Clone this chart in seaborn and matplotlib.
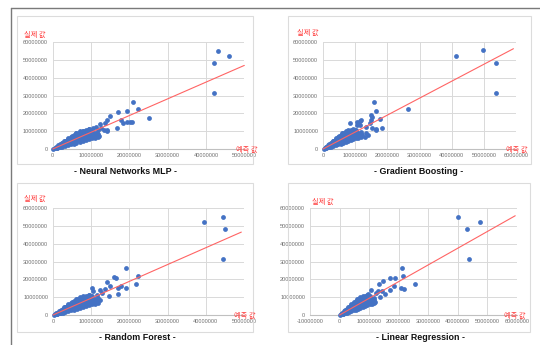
import matplotlib
matplotlib.use("Agg")
import matplotlib.pyplot as plt
import seaborn as sns
import pandas as pd
from matplotlib.patches import Rectangle
from matplotlib.lines import Line2D
from matplotlib.ticker import FuncFormatter, MultipleLocator

# ---------------- data (values in millions) ----------------
models = ["Neural Networks MLP", "Gradient Boosting", "Random Forest", "Linear Regression"]

# dense cluster of small apartments, same look in all four panels
core_pred = [0.2, 0.5, 0.8, 1, 1.2, 1.5, 1.5, 2, 2, 2, 2.5, 2.5, 3, 3, 3, 3.5, 3.5, 4, 4, 4, 4,
             4.5, 4.5, 5, 5, 5, 5, 5.5, 5.5, 6, 6, 6, 6, 6.5, 6.5, 7, 7, 7, 7, 7.5, 7.5, 8, 8, 8,
             8, 8.5, 8.5, 9, 9, 9, 9.5, 10, 10, 10, 10.5, 11, 11]
core_act = [0.2, 0.4, 0.9, 0.7, 1.3, 1.2, 2, 1.4, 2.3, 3, 2, 3.2, 2.2, 3.2, 4.3, 2.8, 4.5, 3, 4,
            5.2, 6.2, 3.6, 5.5, 3.8, 5, 6.5, 7.5, 4.5, 6.5, 4.5, 6, 7.5, 9, 5.2, 7.5, 5.2, 6.5, 8,
            10, 6, 9, 5.8, 7, 8.5, 10, 6.5, 9, 6.2, 7.5, 9.5, 8, 6.5, 8, 10.5, 7.5, 6.8, 8.5]
fill_pred = [1, 1, 1.8, 1.8, 1.8, 2.5, 2.5, 2.5, 3.2, 3.2, 3.2, 3.2, 4, 4, 4, 4,
             4.8, 4.8, 4.8, 4.8, 4.8, 5.5, 5.5, 5.5, 5.5, 5.5, 6.2, 6.2, 6.2, 6.2, 6.2,
             7, 7, 7, 7, 7, 7.8, 7.8, 7.8, 7.8, 7.8, 8.6, 8.6, 8.6, 8.6, 8.6,
             9.4, 9.4, 9.4, 9.4, 9.4, 10.2, 10.2, 10.2, 10.2, 11, 11, 11, 11.8, 11.8]
fill_act = [0.6, 1.4, 1, 1.8, 2.4, 1.4, 2.6, 3.4, 1.8, 2.8, 3.8, 4.6, 2.2, 3.4, 4.6, 5.6,
            2.6, 3.8, 5, 6.2, 7, 3, 4.2, 5.4, 6.8, 7.8, 3.4, 4.8, 6.2, 7.6, 8.8,
            3.9, 5.5, 7, 8.6, 9.6, 4.4, 6, 7.6, 9, 10.4, 5, 6.6, 8, 9.6, 10.8,
            5.4, 7, 8.6, 10, 11.2, 6, 7.6, 9, 10.4, 6.4, 7.8, 9.2, 7, 8.4]

nn_pred = [9.5, 10.5, 11.2, 12.7, 11.8, 13.6, 14.3, 14.9, 14.3, 12.3, 13.4, 14.3, 16.7, 17.1, 17.7,
           18.3, 19.4, 20.2, 20.8, 19.5, 21.0, 22.3, 25.0, 11, 11.5, 12, 43.2, 46.0, 42.0, 42.2]
nn_act = [11.5, 12, 12.6, 11.6, 10.7, 14.4, 16.3, 18.8, 10.1, 14.1, 10.7, 10.5, 12.0, 20.6, 16.3,
          14.4, 15.0, 15.2, 15.2, 21.4, 26.6, 22.5, 17.3, 8, 9, 7.5, 55.3, 52.5, 48.4, 31.5]

gb_pred = [8.3, 10.6, 10.9, 11.6, 11.9, 10.7, 11.4, 13.5, 15.1, 16.6, 11.9, 13.5, 14.0, 13.0, 14.5,
           14.8, 15.1, 15.0, 16.4, 17.6, 18.4, 15.8, 16.6, 26.3, 12, 9.5, 41.5, 49.8, 53.8, 53.8]
gb_act = [14.4, 13.5, 14.8, 15.9, 16.3, 15.0, 13.5, 12.6, 11.6, 11.2, 9.8, 8.8, 7.9, 6.5, 14.4,
          16.3, 18.2, 19.1, 10.7, 16.9, 12.0, 26.3, 21.4, 22.5, 8, 7, 51.9, 55.3, 48.4, 31.5]

rf_pred = [10.0, 10.2, 10.6, 11.5, 11.9, 12.2, 12.3, 12.8, 13.5, 14.1, 14.7, 15.0, 16.0, 16.5, 16.9,
           17.0, 17.7, 19.1, 19.1, 21.7, 22.2, 10.5, 11, 9.5, 39.5, 44.5, 45.0, 44.4]
rf_act = [7.7, 15.0, 13.7, 11.3, 9.4, 14.1, 8.4, 12.2, 14.4, 18.6, 10.9, 16.3, 21.2, 20.6, 11.8,
          15.0, 16.0, 15.0, 26.1, 17.3, 21.8, 9, 8.5, 11, 51.9, 55.0, 48.2, 31.3]

lr_pred = [9.5, 10.5, 10.5, 11.5, 12.2, 12.9, 13.3, 13.8, 14.4, 14.7, 15.5, 17.0, 17.0, 18.3, 18.9,
           20.8, 21.2, 21.5, 21.7, 25.4, 11, 12, 40.1, 47.4, 43.2, 43.7]
lr_act = [11.5, 14.1, 8.4, 9.5, 12.6, 13.7, 17.3, 10.3, 13.5, 18.8, 11.8, 14.0, 20.6, 16.3, 21.0,
          15.0, 26.3, 21.8, 14.6, 17.3, 8, 7.5, 55.0, 51.9, 48.2, 31.3]

trend_slope = [0.94, 0.95, 0.943, 0.937]
trend_end = [50.0, 59.2, 49.3, 59.4]
x_min = [0, 0, 0, -10]
x_max = [50, 60, 50, 60]
y_max = 60
tick_step = 10
M = 1_000_000

preds = [nn_pred, gb_pred, rf_pred, lr_pred]
acts = [nn_act, gb_act, rf_act, lr_act]

# ---------------- layout (pixels) ----------------
W, H = 540, 345
panel_box = [(17, 16, 253, 164), (288, 16, 531, 164), (17, 183, 253, 332), (288, 183, 530, 332)]
plot_area = [(52.7, 42.3, 244.3, 149), (323, 42, 516, 149), (53, 208, 244, 315), (310, 208, 517, 315)]
ylab_pos = [(24, 35), (297, 33), (24, 199), (312, 202)]
xlab_pos = [(257, 150), (527, 150), (256, 316), (526, 316)]
title_pos = [(125.5, 171), (419, 171), (137.5, 338), (420, 338)]

sns.set_style("white")
plt.rcParams["font.family"] = ["Liberation Sans", "DejaVu Sans"]

fig = plt.figure(figsize=(W / 100, H / 100), dpi=100)
fig.patch.set_facecolor("white")


def fx(x):
    return x / W


def fy(y):
    return 1 - y / H


# outer document frame
fig.add_artist(Line2D([fx(11), fx(540)], [fy(8), fy(8)], color="#7a7a7a", lw=1.0))
fig.add_artist(Line2D([fx(11), fx(11)], [fy(8), fy(345)], color="#7a7a7a", lw=1.0))

blue = "#4472C4"
red_line = "#ff6464"
grid_c = "#d9d9d9"
fmt = FuncFormatter(lambda v, p: f"{int(round(v)):d}")

for i in range(4):
    bx0, by0, bx1, by1 = panel_box[i]
    fig.add_artist(Rectangle((fx(bx0), fy(by1)), fx(bx1 - bx0), (by1 - by0) / H,
                             fill=False, edgecolor="#dcdcdc", lw=0.8))
    px0, py0, px1, py1 = plot_area[i]
    ax = fig.add_axes([fx(px0), fy(py1), fx(px1 - px0), (py1 - py0) / H])
    ax.set_facecolor("white")

    df = pd.DataFrame({
        "pred": [v * M for v in core_pred + fill_pred + preds[i]],
        "actual": [v * M for v in core_act + fill_act + acts[i]],
    })
    sns.scatterplot(data=df, x="pred", y="actual", ax=ax, color=blue, s=12,
                    linewidth=0, clip_on=False, zorder=3)
    ax.plot([0, trend_end[i] * M], [0, trend_slope[i] * trend_end[i] * M],
            color=red_line, lw=0.8, zorder=4, clip_on=False)

    ax.set_xlim(x_min[i] * M, x_max[i] * M)
    ax.set_ylim(0, y_max * M)
    ax.xaxis.set_major_locator(MultipleLocator(tick_step * M))
    ax.yaxis.set_major_locator(MultipleLocator(tick_step * M))
    ax.xaxis.set_major_formatter(fmt)
    ax.yaxis.set_major_formatter(fmt)
    ax.grid(True, color=grid_c, lw=0.7, zorder=0)
    ax.set_axisbelow(True)
    for s in ["top", "right", "left"]:
        ax.spines[s].set_visible(False)
    ax.spines["bottom"].set_color("#c0c0c0")
    ax.spines["bottom"].set_linewidth(0.8)
    ax.tick_params(axis="both", length=0, labelsize=4.1, labelcolor="#707070")
    ax.tick_params(axis="x", pad=3)
    ax.tick_params(axis="y", pad=3.5)
    ax.set_xlabel("")
    ax.set_ylabel("")

    fig.text(fx(ylab_pos[i][0]), fy(ylab_pos[i][1]), "실제 값", color="#ff3c3c",
             fontsize=5.2, family=["Noto Sans CJK KR", "DejaVu Sans"], ha="left", va="center")
    fig.text(fx(xlab_pos[i][0]), fy(xlab_pos[i][1]), "예측 값", color="#ff3c3c",
             fontsize=5.2, family=["Noto Sans CJK KR", "DejaVu Sans"], ha="right", va="center")
    fig.text(fx(title_pos[i][0]), fy(title_pos[i][1]), f"- {models[i]} -", color="#111111",
             fontsize=6.4, fontweight="bold", ha="center", va="center")

fig.savefig("out.png", dpi=100, facecolor="white")
